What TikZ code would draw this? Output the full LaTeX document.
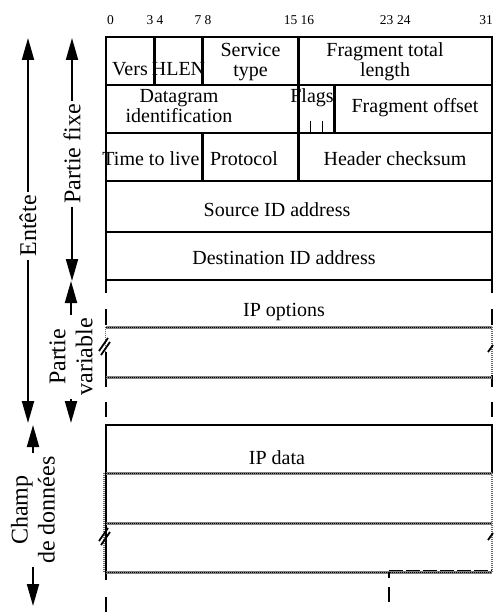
\documentclass[tikz,border=0pt]{standalone}
\usepackage{fontspec}
\setmainfont{Liberation Serif}
\usetikzlibrary{arrows.meta}
\begin{document}
\begin{tikzpicture}[x=1pt,y=-1pt,
  box/.style={draw=black, line width=2.2pt},
  seg/.style={draw=black, line width=2.2pt},
  txt/.style={inner sep=0pt, font=\fontsize{20}{21}\selectfont},
  num/.style={inner sep=0pt, font=\fontsize{13.5}{14}\selectfont},
  side/.style={inner sep=3pt, rotate=90, align=center, font=\fontsize{24}{27}\selectfont},
  arr/.style={draw=black, line width=2pt, -{Triangle[length=22pt,width=12pt]}},
  hatch/.style={draw=black!50, line width=3pt, postaction={draw=black, line width=1pt, dash pattern=on 1pt off 1pt}},
  fine/.style={draw=black!60, line width=1.4pt, dash pattern=on 1pt off 1pt},
  brk/.style={draw=black, line width=1.8pt},
  tick/.style={draw=black, line width=1.8pt}]
\useasboundingbox (0,0) rectangle (493,612);
% ---------- bit numbers ----------
\node[num, anchor=west] (b0) at (107,20) {0};
\node[num, anchor=east] (b3) at (153.5,20) {3};
\node[num, anchor=west] (b4) at (156.5,20) {4};
\node[num, anchor=east] (b7) at (201.5,20) {7};
\node[num, anchor=west] (b8) at (204.5,20) {8};
\node[num, anchor=east] (b15) at (297.5,20) {15};
\node[num, anchor=west] (b16) at (300.5,20) {16};
\node[num, anchor=east] (b23) at (393.5,20) {23};
\node[num, anchor=west] (b24) at (397,20) {24};
\node[num, anchor=east] (b31) at (493,20) {31};
% ---------- fixed header ----------
\draw[box] (106,37) rectangle (492,280);
\draw[box] (106,85) -- (492,85);
\draw[box] (106,133) -- (492,133);
\draw[box] (106,181) -- (492,181);
\draw[box] (106,232) -- (492,232);
\draw[box] (154.5,37) -- (154.5,85);
\draw[box] (202.5,37) -- (202.5,85);
\draw[box] (298.5,37) -- (298.5,133);
\draw[box] (334.5,85) -- (334.5,133);
\draw[tick] (310.5,121) -- (310.5,133);
\draw[tick] (322.5,121) -- (322.5,133);
\draw[box] (202.5,133) -- (202.5,181);
\draw[box] (298.5,133) -- (298.5,181);
\node[txt] (vers) at (130,69) {Vers};
\node[txt] (hlen) at (178.5,69) {HLEN};
\node[txt, align=center] (svc) at (250.5,62) {Service\\[-1pt]type};
\node[txt, align=center] (ftl) at (385,62) {Fragment total\\[-1pt]length};
\node[txt, align=center] (dgi) at (179,106) {Datagram\\[-1pt]identification};
\node[txt] (flags) at (312,98) {Flags};
\node[txt] (fo) at (415,108) {Fragment offset};
\node[txt] (ttl) at (151,159) {Time to live};
\node[txt] (proto) at (244,159) {Protocol};
\node[txt] (hck) at (395,159) {Header checksum};
\node[txt] (src) at (277,210) {Source ID address};
\node[txt] (dst) at (284,258) {Destination ID address};
% ---------- options ----------
\node[txt] (opt) at (284,312) {IP options};
\foreach \x in {106,492}{
  \draw[seg] (\x,280) -- (\x,293);
  \draw[seg] (\x,309) -- (\x,325);
  \draw[seg] (\x,402) -- (\x,417);
}
\draw[fine] (105.5,327) -- (105.5,377);
\draw[fine] (492,327) -- (492,377);
\draw[seg] (106,352) -- (106,387);
\draw[seg] (492,375) -- (492,387);
\draw[hatch] (106,327) -- (492,327);
\draw[hatch] (106,377) -- (492,377);
\draw[brk] (99,351) -- (108,338);
\draw[brk] (101,355) -- (110,342);
\draw[brk] (488,352) -- (493,345);
% ---------- data ----------
\node[txt] (data) at (277,458) {IP data};
\draw[box] (106,573) -- (106,425) -- (492,425) -- (492,473);
\draw[fine] (492,473) -- (492,572);
\draw[fine] (104,473) -- (104,572);
\draw[seg] (106,580) -- (106,573);
\draw[hatch] (106,473) -- (492,473);
\draw[hatch] (106,523) -- (492,523);
\draw[hatch] (106,572) -- (492,572);
\draw[draw=black, line width=1.2pt, dash pattern=on 14pt off 3pt] (389,570.5) -- (492,570.5);
\draw[draw=black, line width=1.4pt] (389,572) -- (389,578);
\draw[draw=black, line width=1.4pt] (389,587) -- (389,602);
\draw[seg] (106,597) -- (106,612);
\draw[brk] (99,541) -- (108,528);
\draw[brk] (101,545) -- (110,532);
\draw[brk] (488,540) -- (493,533);
% ---------- side labels ----------
\node[side] (ent) at (28,226) {Entête};
\coordinate (entT) at (28,38);
\coordinate (entB) at (28,423);
\draw[arr] (ent.east) -- (entT);
\draw[arr] (ent.west) -- (entB);
\node[side] (pfx) at (72,154) {Partie fixe};
\coordinate (pfxT) at (72,38);
\coordinate (pfxB) at (72,281);
\draw[arr] (pfx.east) -- (pfxT);
\draw[arr] (pfx.west) -- (pfxB);
\node[side] (pvr) at (71,357) {Partie\\variable};
\coordinate (pvrT) at (71,281);
\coordinate (pvrB) at (71,423);
\draw[arr] (pvr.east) -- (pvrT);
\draw[arr] (pvr.west) -- (pvrB);
\node[side] (chp) at (33,510) {Champ\\de données};
\coordinate (chpT) at (33,425);
\coordinate (chpB) at (33,606);
\draw[arr] (chp.east) -- (chpT);
\draw[arr] (chp.west) -- (chpB);
\end{tikzpicture}
\end{document}
